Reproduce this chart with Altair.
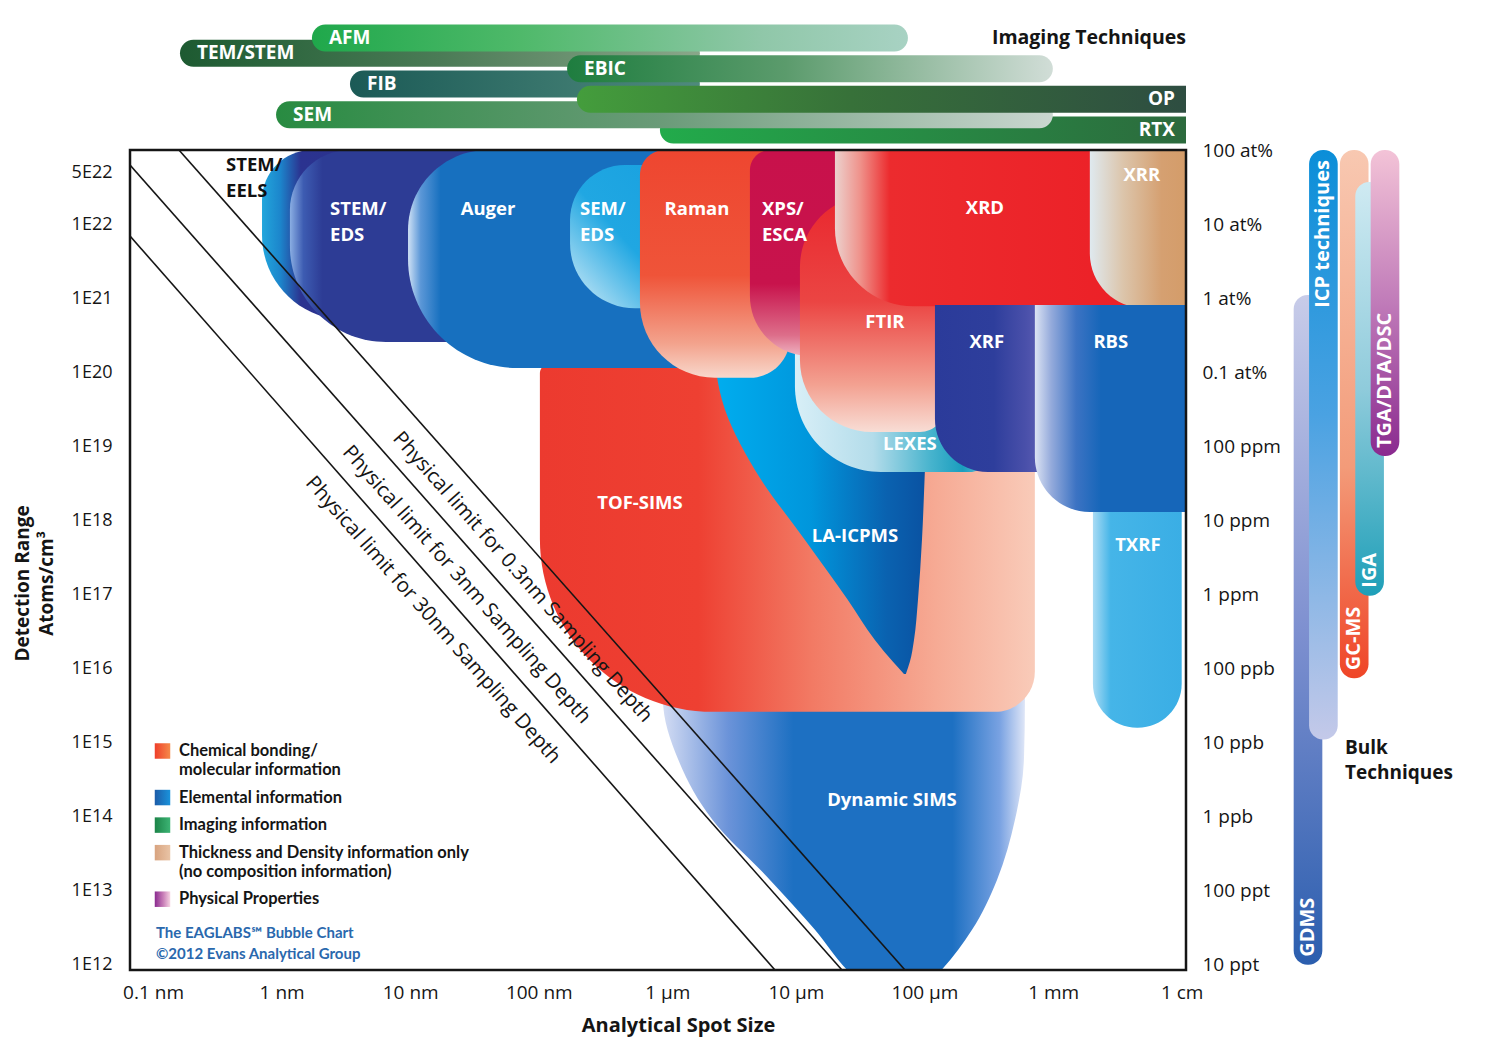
import json
import math
import altair as alt
import pandas as pd

# ===================== DATA =====================
# analytical spot size in nanometres, detection range in atoms / cm^3

x_tick_values = [0.1, 1, 10, 100, 1e3, 1e4, 1e5, 1e6, 1e7]
x_tick_labels = ["0.1 nm", "1 nm", "10 nm", "100 nm", "1 µm", "10 µm", "100 µm", "1 mm", "1 cm"]

y_tick_values = [1e12, 1e13, 1e14, 1e15, 1e16, 1e17, 1e18, 1e19, 1e20, 1e21, 1e22, 5e22]
y_tick_labels = ["1E12", "1E13", "1E14", "1E15", "1E16", "1E17", "1E18", "1E19",
                 "1E20", "1E21", "1E22", "5E22"]

conc_tick_values = [1e12, 1e13, 1e14, 1e15, 1e16, 1e17, 1e18, 1e19, 1e20, 1e21, 1e22, 1e23]
conc_tick_labels = ["10 ppt", "100 ppt", "1 ppb", "10 ppb", "100 ppb", "1 ppm", "10 ppm",
                    "100 ppm", "0.1 at%", "1 at%", "10 at%", "100 at%"]

# techniques drawn as rounded blocks: spot-size range x detection range
block_names = ["TOF-SIMS", "STEM/EELS", "STEM/EDS", "Auger", "SEM/EDS", "LEXES", "Raman",
               "XPS/ESCA", "FTIR", "XRD", "XRR", "TXRF", "XRF", "RBS"]
block_spot_min = [102, 0.704, 1.16, 9.62, 175, 9820, 612, 4385, 10740, 20100, 1.93e6, 2.04e6, 1.205e5, 7.21e5]
block_spot_max = [7.21e5, 71.5, 146, 6280, 1790, 3.23e5, 8980, 37600, 1.44e5, 1.39e7, 1.39e7, 1.0e7, 8.18e5, 1.39e7]
block_det_min = [2.6e15, 5.06e20, 2.56e20, 1.14e20, 7.3e20, 4.5e18, 8.4e19, 1.66e20, 1.56e19, 7.8e20,
                 7.3e20, 1.58e15, 4.5e18, 1.3e18]
block_det_max = [1.25e20, 1e23, 1e23, 1e23, 6.25e22, 9.4e20, 1e23, 1e23, 2.46e22, 1e23,
                 1e23, 3.5e18, 8.1e20, 8.1e20]

# techniques drawn from an outline: detection level -> spot-size range at that level
dsims_det = [2.43e16, 3.77e15, 5.85e14, 9.06e13, 1.40e13, 2.97e12, 8.57e11, 2.89e11]
dsims_spot_min = [925, 925, 1216, 2240, 6280, 14060, 24900, 49200]
dsims_spot_max = [6.04e5, 6.04e5, 5.93e5, 5.05e5, 3.66e5, 2.34e5, 1.36e5, 7.05e4]

laicp_det = [3.72e20, 4.22e19, 4.79e18, 5.43e17, 8.43e16, 2.43e16, 1.23e16, 8.45e15]
laicp_spot_min = [2240, 2660, 4800, 11750, 25350, 41100, 56800, 69200]
laicp_spot_max = [1.10e5, 1.06e5, 1.007e5, 9.55e4, 8.89e4, 8.28e4, 7.69e4, 7.16e4]

# technique labels and where they sit (spot size, detection)
label_names = ["STEM/EELS", "STEM/EDS", "Auger", "SEM/EDS", "Raman", "XPS/ESCA", "XRD", "XRR",
               "FTIR", "XRF", "RBS", "LEXES", "TXRF", "TOF-SIMS", "LA-ICPMS", "Dynamic SIMS"]
label_text = ["STEM/\nEELS", "STEM/\nEDS", "Auger", "SEM/\nEDS", "Raman", "XPS/\nESCA", "XRD", "XRR",
              "FTIR", "XRF", "RBS", "LEXES", "TXRF", "TOF-SIMS", "LA-ICPMS", "Dynamic SIMS"]
label_spot = [0.370, 2.38, 40.3, 209, 1700, 5440, 2.95e5, 4.9e6, 4.92e4, 3.05e5, 2.81e6, 7.69e4,
              4.56e6, 612, 2.88e4, 5.58e4]
label_det = [6.25e22, 1.59e22, 1.59e22, 1.59e22, 1.59e22, 1.59e22, 1.64e22, 4.6e22, 4.78e20,
             2.56e20, 2.56e20, 1.07e19, 4.66e17, 1.72e18, 6.2e17, 1.69e14]

# physical sampling-depth limits (straight lines in log-log space)
limit_depth = ["0.3nm", "3nm", "30nm"]
limit_spot_from = [0.159, 0.0662, 0.0662]
limit_det_from = [1.0e23, 6.25e22, 6.9e21]
limit_spot_to = [7.05e4, 2.28e4, 6.87e3]
limit_det_to = [8.5e11, 8.5e11, 8.5e11]

# imaging techniques: spatial-resolution ranges
img_names = ["AFM", "TEM/STEM", "EBIC", "FIB", "OP", "SEM", "RTX"]
img_spot_min = [1.72, 0.162, 166, 3.40, 198, 0.905, 875]
img_spot_max = [7.43e4, 1790, 9.95e5, 1790, 1.08e7, 9.95e5, 1.08e7]

# bulk techniques: detection ranges
bulk_names = ["GDMS", "ICP techniques", "GC-MS", "IGA", "TGA/DTA/DSC"]
bulk_det_min = [1.0e12, 1.1e15, 7.4e15, 9.6e16, 7.4e18]
bulk_det_max = [1.1e21, 1.0e23, 1.0e23, 3.7e22, 1.0e23]

legend_labels = ["Chemical bonding/\nmolecular information", "Elemental information",
                 "Imaging information",
                 "Thickness and Density information only\n(no composition information)",
                 "Physical Properties"]
credit_lines = ["The EAGLABS\u2120 Bubble Chart", "\u00a92012 Evans Analytical Group"]

# ===================== STYLE / LAYOUT =====================
W, H = 1056, 820
X_DOM = [0.0662, 1.08e7]
Y_DOM = [8.5e11, 1.0e23]
FONT = "Open Sans"
LFONT = "Lato"
INK = "#151515"

paint_order = ["Dynamic SIMS", "TOF-SIMS", "LA-ICPMS", "STEM/EELS", "STEM/EDS", "Auger", "SEM/EDS",
               "LEXES", "Raman", "XPS/ESCA", "FTIR", "XRD", "XRR", "TXRF", "XRF", "RBS"]

# corner radii (TL, TR, BR, BL), gradient direction, stops
BLOCK_STYLE = {
    "TOF-SIMS": ((8, 0, 40, 175), "h", [(0, "#ec3a2f"), (0.32, "#ee4032"), (0.55, "#f27a64"), (0.8, "#f6aa94"), (1, "#f9cbb9")]),
    "STEM/EELS": ((50, 0, 60, 90), "h", [(0, "#22a6dc"), (0.07, "#1c86cc"), (0.15, "#2b3390"), (1, "#2b2f88")]),
    "STEM/EDS": ((60, 0, 60, 100), "h", [(0, "#8aaee3"), (0.05, "#3d5cb2"), (0.12, "#2d3c95"), (1, "#2d3c95")]),
    "Auger": ((80, 0, 40, 110), "h", [(0, "#cfe1f5"), (0.035, "#5b97d7"), (0.09, "#1770bf"), (1, "#1770bf")]),
    "SEM/EDS": ((55, 0, 0, 70), "d", [(0, "#17a0df"), (0.55, "#20a7e2"), (1, "#d6edf8")]),
    "LEXES": ((0, 0, 20, 86), "h", [(0, "#d8eff7"), (0.4, "#b3dcea"), (0.7, "#46b3cd"), (0.86, "#1a9ebe"), (1, "#72c4da")]),
    "Raman": ((25, 0, 40, 75), "v", [(0, "#ee4630"), (0.55, "#ef5439"), (0.85, "#f3a38d"), (1, "#f8d8cc")]),
    "XPS/ESCA": ((20, 0, 30, 60), "v", [(0, "#c8114b"), (0.65, "#c8134c"), (0.9, "#dd6e8a"), (1, "#efb4c2")]),
    "FTIR": ((72, 0, 25, 72), "v", [(0, "#e9272e"), (0.45, "#eb4543"), (0.8, "#f3a191"), (1, "#f8ddd5")]),
    "XRD": ((0, 0, 0, 78), "h", [(0, "#ecd2ce"), (0.07, "#ef918a"), (0.15, "#ec2b2e"), (1, "#ec1d25")]),
    "XRR": ((0, 0, 0, 55), "h", [(0, "#dfe9ef"), (0.3, "#dcc5ab"), (0.65, "#d5a071"), (1, "#d39a65")]),
    "TXRF": ((0, 0, 44, 44), "h", [(0, "#a9dbf4"), (0.2, "#45b5e8"), (1, "#3aaee5")]),
    "XRF": ((0, 0, 0, 53), "h", [(0, "#2b3b9a"), (0.55, "#2e3e9c"), (0.85, "#4a50aa"), (1, "#5b5db3")]),
    "RBS": ((0, 0, 0, 55), "h", [(0, "#dce3f3"), (0.1, "#94aadb"), (0.25, "#3c73c3"), (0.4, "#1666b9"), (1, "#1666b9")]),
}
OUTLINE_STYLE = {
    "Dynamic SIMS": ("h", [(0, "#d3dcf3"), (0.18, "#6b93d9"), (0.36, "#1d70c2"), (0.8, "#1d70c2"), (0.93, "#79a2e2"), (1, "#dfe6f7")]),
    "LA-ICPMS": ("h", [(0, "#00aeef"), (0.45, "#0096dc"), (0.8, "#0a62b0"), (1, "#0a50a0")]),
}
LEFT_ALIGNED = {"STEM/EELS", "STEM/EDS", "SEM/EDS", "XPS/ESCA"}
DARK_LABELS = {"STEM/EELS"}

IMG_STYLE = {
    "AFM": [(0, "#1fa84b"), (0.35, "#4fb96a"), (0.75, "#8fc7a8"), (1, "#a8d2c3")],
    "TEM/STEM": [(0, "#1d5a31"), (0.5, "#4b7b56"), (1, "#8aa78a")],
    "EBIC": [(0, "#1e7d3f"), (0.45, "#5b9b6c"), (1, "#d1ddd7")],
    "FIB": [(0, "#1b5a56"), (1, "#4f8a7d")],
    "OP": [(0, "#449d3c"), (0.45, "#377139"), (1, "#2e4d41")],
    "SEM": [(0, "#288b41"), (0.5, "#6b9b79"), (1, "#cad7d0")],
    "RTX": [(0, "#22ab4b"), (1, "#2c6a3d")],
}
IMG_SQUARE_RIGHT = {"OP", "RTX"}
img_paint = ["TEM/STEM", "AFM", "RTX", "SEM", "FIB", "EBIC", "OP"]

BULK_STYLE = {
    "GDMS": [(0, "#c8cce9"), (0.5, "#7e90d0"), (1, "#2b5eae")],
    "ICP techniques": [(0, "#0b8ed8"), (0.45, "#4aa2e2"), (1, "#c4c9e9")],
    "GC-MS": [(0, "#f8c8b1"), (0.6, "#f39b79"), (1, "#ef4527")],
    "IGA": [(0, "#cfeaf2"), (0.5, "#8fcbdb"), (1, "#1e9fb8")],
    "TGA/DTA/DSC": [(0, "#f3c3d7"), (0.5, "#c07bb9"), (1, "#8a2a8f")],
}
BULK_SLOT = {"GDMS": 0, "ICP techniques": 1, "GC-MS": 3, "IGA": 4, "TGA/DTA/DSC": 5}
BULK_LABEL_TOP = {"ICP techniques"}

SWATCH_STYLE = [
    [(0, "#ef3f2a"), (1, "#f58a4a")],
    [(0, "#1d5ca8"), (1, "#1a93dc")],
    [(0, "#1c8448"), (1, "#3cb474")],
    [(0, "#d8a37f"), (1, "#e9c4a6")],
    [(0, "#8a2a8f"), (0.55, "#c97fb8"), (1, "#f6d3e2")],
]


def grad(stops, direction="h"):
    x1, y1, x2, y2 = {"h": (0, 0, 1, 0), "v": (0, 0, 0, 1), "d": (1, 0, 0, 1)}[direction]
    return alt.LinearGradient(gradient="linear",
                              stops=[alt.GradientStop(offset=o, color=c) for o, c in stops],
                              x1=x1, y1=y1, x2=x2, y2=y2)


def xscale():
    return alt.Scale(type="log", domain=X_DOM, nice=False)


def yscale():
    return alt.Scale(type="log", domain=Y_DOM, nice=False)


def lookup_expr(labels, offset):
    return json.dumps(labels, ensure_ascii=False) + "[round(log(datum.value)/LN10)" + offset + "]"


x_axis = alt.Axis(values=x_tick_values, labelExpr=lookup_expr(x_tick_labels, "+1"),
                  title="Analytical Spot Size", grid=False, ticks=False, domain=False,
                  labelFont=FONT, labelFontSize=19, labelColor=INK, labelPadding=13,
                  labelFlush=False, labelOverlap=False,
                  titleFont=FONT, titleFontSize=20, titleFontWeight="bold", titleColor=INK,
                  titleX=548, titleY=55, titleBaseline="middle")
y_axis = alt.Axis(values=y_tick_values, labelExpr=lookup_expr(y_tick_labels, "-12"),
                  title=["Detection Range", "Atoms/cm\u00b3"], grid=False, ticks=False, domain=False,
                  labelFont=FONT, labelFontSize=18, labelColor=INK, labelPadding=18,
                  labelFlush=False, labelOverlap=False,
                  titleFont=FONT, titleFontSize=19, titleFontWeight="bold", titleColor=INK,
                  titleLineHeight=24, titleX=-98, titleY=433)
right_axis = alt.Axis(values=conc_tick_values, labelExpr=lookup_expr(conc_tick_labels, "-12"),
                      orient="right", title="", grid=False, ticks=False, domain=False,
                      labelFont=FONT, labelFontSize=19, labelColor=INK, labelPadding=16,
                      labelFlush=False, labelOverlap=False)

# ===================== MAIN PLOT =====================
blocks = pd.DataFrame({"name": block_names, "smin": block_spot_min, "smax": block_spot_max,
                       "dmin": block_det_min, "dmax": block_det_max})
outlines = {
    "Dynamic SIMS": pd.DataFrame({"det": dsims_det, "smin": dsims_spot_min, "smax": dsims_spot_max}),
    "LA-ICPMS": pd.DataFrame({"det": laicp_det, "smin": laicp_spot_min, "smax": laicp_spot_max}),
}

main_layers = []
for name in paint_order:
    if name in outlines:
        d, stops = OUTLINE_STYLE[name]
        main_layers.append(
            alt.Chart(outlines[name]).mark_area(orient="horizontal", interpolate="monotone",
                                                fill=grad(stops, d), clip=True).encode(
                y=alt.Y("det:Q", scale=yscale(), axis=None),
                x=alt.X("smin:Q", scale=xscale(), axis=None),
                x2=alt.X2("smax:Q")))
    else:
        (tl, tr, br, bl), d, stops = BLOCK_STYLE[name]
        main_layers.append(
            alt.Chart(blocks[blocks["name"] == name]).mark_rect(
                fill=grad(stops, d), clip=True,
                cornerRadiusTopLeft=tl, cornerRadiusTopRight=tr,
                cornerRadiusBottomRight=br, cornerRadiusBottomLeft=bl).encode(
                x=alt.X("smin:Q", scale=xscale(), axis=None), x2=alt.X2("smax:Q"),
                y=alt.Y("dmax:Q", scale=yscale(), axis=None), y2=alt.Y2("dmin:Q")))

lines_df = pd.DataFrame({"depth": limit_depth * 2,
                         "spot": limit_spot_from + limit_spot_to,
                         "det": limit_det_from + limit_det_to})
lines = alt.Chart(lines_df).mark_line(color=INK, strokeWidth=1.6, clip=True).encode(
    x=alt.X("spot:Q", scale=xscale(), axis=None),
    y=alt.Y("det:Q", scale=yscale(), axis=None),
    detail="depth:N")

ppd_x = W / math.log10(X_DOM[1] / X_DOM[0])
ppd_y = H / math.log10(Y_DOM[1] / Y_DOM[0])
dl = []
for d, s0, d0, s1, d1 in zip(limit_depth, limit_spot_from, limit_det_from, limit_spot_to, limit_det_to):
    ang = math.degrees(math.atan2(math.log10(d0 / d1) * ppd_y, math.log10(s1 / s0) * ppd_x))
    dl.append({"text": f"Physical limit for {d} Sampling Depth", "spot": math.sqrt(s0 * s1),
               "det": math.sqrt(d0 * d1), "angle": ang})
depth_labels = alt.Chart(pd.DataFrame(dl)).mark_text(
    font=FONT, fontSize=20.5, color=INK, align="center", baseline="middle", dy=26).encode(
    x=alt.X("spot:Q", scale=xscale(), axis=None),
    y=alt.Y("det:Q", scale=yscale(), axis=None),
    angle=alt.Angle("angle:Q", scale=None),
    text="text:N")

labels_df = pd.DataFrame({"name": label_names, "text": label_text, "spot": label_spot, "det": label_det})
labels_df["col"] = ["#111111" if n in DARK_LABELS else "#ffffff" for n in label_names]
label_layers = []
for al, sub in [("left", labels_df[labels_df["name"].isin(LEFT_ALIGNED)]),
                ("center", labels_df[~labels_df["name"].isin(LEFT_ALIGNED)])]:
    label_layers.append(alt.Chart(sub).mark_text(
        font=FONT, fontSize=18.5, fontWeight="bold", align=al, baseline="middle",
        lineBreak="\n", lineHeight=25.5).encode(
        x=alt.X("spot:Q", scale=xscale(), axis=None),
        y=alt.Y("det:Q", scale=yscale(), axis=None),
        color=alt.Color("col:N", scale=None),
        text="text:N"))

frame = alt.Chart(pd.DataFrame({"x0": [X_DOM[0]], "x1": [X_DOM[1]], "y0": [Y_DOM[0]], "y1": [Y_DOM[1]]})).mark_rect(
    fillOpacity=0, stroke=INK, strokeWidth=2.5).encode(
    x=alt.X("x0:Q", scale=xscale(), axis=None), x2="x1",
    y=alt.Y("y0:Q", scale=yscale(), axis=None), y2="y1")

main = alt.layer(*main_layers, lines, depth_labels, *label_layers, frame)

# axes live on plain (unit) layers so that they are drawn
axes_left_bottom = alt.Chart(lines_df).mark_line(opacity=0).encode(
    x=alt.X("spot:Q", scale=xscale(), axis=x_axis),
    y=alt.Y("det:Q", scale=yscale(), axis=y_axis),
    detail="depth:N")
axes_right = alt.Chart(lines_df).mark_line(opacity=0).encode(
    x=alt.X("spot:Q", scale=xscale(), axis=None),
    y=alt.Y("det:Q", scale=yscale(), axis=right_axis),
    detail="depth:N")

# ===================== IMAGING TECHNIQUES (above plot) =====================
img_df = pd.DataFrame({"name": img_names, "smin": img_spot_min, "smax": img_spot_max})
img_df["lane"] = list(range(len(img_names)))
img_df["top"] = img_df["lane"] - 0.88
img_df["bot"] = img_df["lane"] + 0.88
img_df["side"] = ["right" if n in IMG_SQUARE_RIGHT else "left" for n in img_names]


def lane_scale():
    return alt.Scale(domain=[0, len(img_names) - 1], range=[-112, -20], nice=False, zero=False)


img_layers = []
for name in img_paint:
    rr = 0 if name in IMG_SQUARE_RIGHT else 13.5
    img_layers.append(alt.Chart(img_df[img_df["name"] == name]).mark_rect(
        fill=grad(IMG_STYLE[name], "h"),
        cornerRadiusTopLeft=13.5, cornerRadiusBottomLeft=13.5,
        cornerRadiusTopRight=rr, cornerRadiusBottomRight=rr).encode(
        x=alt.X("smin:Q", scale=xscale(), axis=None), x2="smax",
        y=alt.Y("top:Q", scale=lane_scale(), axis=None), y2="bot"))
img_layers.append(alt.Chart(img_df[img_df["side"] == "left"]).mark_text(
    font=FONT, fontSize=19, fontWeight="bold", color="white", align="left", baseline="middle", dx=17).encode(
    x=alt.X("smin:Q", scale=xscale(), axis=None),
    y=alt.Y("lane:Q", scale=lane_scale(), axis=None), text="name:N"))
img_layers.append(alt.Chart(img_df[img_df["side"] == "right"]).mark_text(
    font=FONT, fontSize=19, fontWeight="bold", color="white", align="right", baseline="middle", dx=-11).encode(
    x=alt.X("smax:Q", scale=xscale(), axis=None),
    y=alt.Y("lane:Q", scale=lane_scale(), axis=None), text="name:N"))
img_layers.append(alt.Chart(pd.DataFrame({"text": ["Imaging Techniques"], "spot": [X_DOM[1]], "lane": [0]})).mark_text(
    font=FONT, fontSize=19.5, fontWeight="bold", color=INK, align="right", baseline="middle").encode(
    x=alt.X("spot:Q", scale=xscale(), axis=None),
    y=alt.Y("lane:Q", scale=lane_scale(), axis=None), text="text:N"))
imaging = alt.layer(*img_layers)

# ===================== BULK TECHNIQUES (right of plot) =====================
bulk_df = pd.DataFrame({"name": bulk_names, "dmin": bulk_det_min, "dmax": bulk_det_max})
bulk_df["slot"] = [BULK_SLOT[n] for n in bulk_names]
bulk_df["x0"] = bulk_df["slot"] - 0.93
bulk_df["x1"] = bulk_df["slot"] + 0.93


def slot_scale():
    return alt.Scale(domain=[0, 5], range=[1178, 1255], nice=False, zero=False)


bulk_layers = []
for name in bulk_names:
    bulk_layers.append(alt.Chart(bulk_df[bulk_df["name"] == name]).mark_rect(
        fill=grad(BULK_STYLE[name], "v"), cornerRadius=14).encode(
        x=alt.X("x0:Q", scale=slot_scale(), axis=None), x2="x1",
        y=alt.Y("dmax:Q", scale=yscale(), axis=None), y2="dmin"))
bulk_layers.append(alt.Chart(bulk_df[~bulk_df["name"].isin(BULK_LABEL_TOP)]).mark_text(
    font=FONT, fontSize=20, fontWeight="bold", color="white", angle=270, align="left",
    baseline="middle", dx=8).encode(
    x=alt.X("slot:Q", scale=slot_scale(), axis=None),
    y=alt.Y("dmin:Q", scale=yscale(), axis=None), text="name:N"))
bulk_layers.append(alt.Chart(bulk_df[bulk_df["name"].isin(BULK_LABEL_TOP)]).mark_text(
    font=FONT, fontSize=20, fontWeight="bold", color="white", angle=270, align="right",
    baseline="middle", dx=-10).encode(
    x=alt.X("slot:Q", scale=slot_scale(), axis=None),
    y=alt.Y("dmax:Q", scale=yscale(), axis=None), text="name:N"))
bulk_layers.append(alt.Chart(pd.DataFrame({"text": ["Bulk\nTechniques"], "slot": [2.40], "det": [8.5e14]})).mark_text(
    font=FONT, fontSize=19, fontWeight="bold", color=INK, align="left", baseline="middle",
    lineBreak="\n", lineHeight=25).encode(
    x=alt.X("slot:Q", scale=slot_scale(), axis=None),
    y=alt.Y("det:Q", scale=yscale(), axis=None), text="text:N"))
bulk = alt.layer(*bulk_layers)

# ===================== LEGEND =====================
rows = []
pos = 0.0
for i, lab in enumerate(legend_labels):
    rows.append({"text": lab, "line": pos, "idx": i})
    pos += lab.count("\n") + 1 + 0.45
credit_rows = [{"text": t, "line": pos + 0.35 + 1.1 * k} for k, t in enumerate(credit_lines)]
leg_df = pd.DataFrame(rows)
leg_df["col"] = 1.0          # text column
leg_df["sw"] = 6.5 / 23.0    # swatch column
cred_df = pd.DataFrame(credit_rows)
cred_df["col"] = 0.0         # credit column


def leg_x():
    return alt.Scale(domain=[0, 1], range=[26, 49], nice=False, zero=False)


def leg_y():
    return alt.Scale(domain=[0, 10], range=[601, 791], nice=False, zero=False)


leg_layers = []
for i, stops in enumerate(SWATCH_STYLE):
    leg_layers.append(alt.Chart(leg_df[leg_df["idx"] == i]).mark_square(
        size=240, fill=grad(stops, "h"), opacity=1).encode(
        x=alt.X("sw:Q", scale=leg_x(), axis=None),
        y=alt.Y("line:Q", scale=leg_y(), axis=None)))
leg_layers.append(alt.Chart(leg_df).mark_text(
    font=LFONT, fontSize=16.5, fontWeight="bold", color=INK, align="left", baseline="middle",
    lineBreak="\n", lineHeight=19).encode(
    x=alt.X("col:Q", scale=leg_x(), axis=None),
    y=alt.Y("line:Q", scale=leg_y(), axis=None), text="text:N"))
leg_layers.append(alt.Chart(cred_df).mark_text(
    font=LFONT, fontSize=15, fontWeight="bold", color="#2a68ad", align="left", baseline="middle").encode(
    x=alt.X("col:Q", scale=leg_x(), axis=None),
    y=alt.Y("line:Q", scale=leg_y(), axis=None), text="text:N"))
legend = alt.layer(*leg_layers)

chart = alt.layer(main, axes_left_bottom, axes_right, imaging, bulk, legend).resolve_scale(
    x="independent", y="independent"
).properties(
    width=W, height=H,
    padding={"left": 122, "top": 142, "right": 295, "bottom": 76},
    autosize=alt.AutoSizeParams(type="none"),
    background="white",
).configure_view(stroke="transparent")

chart.save("out.html", embed_options={"renderer": "svg", "actions": False})
